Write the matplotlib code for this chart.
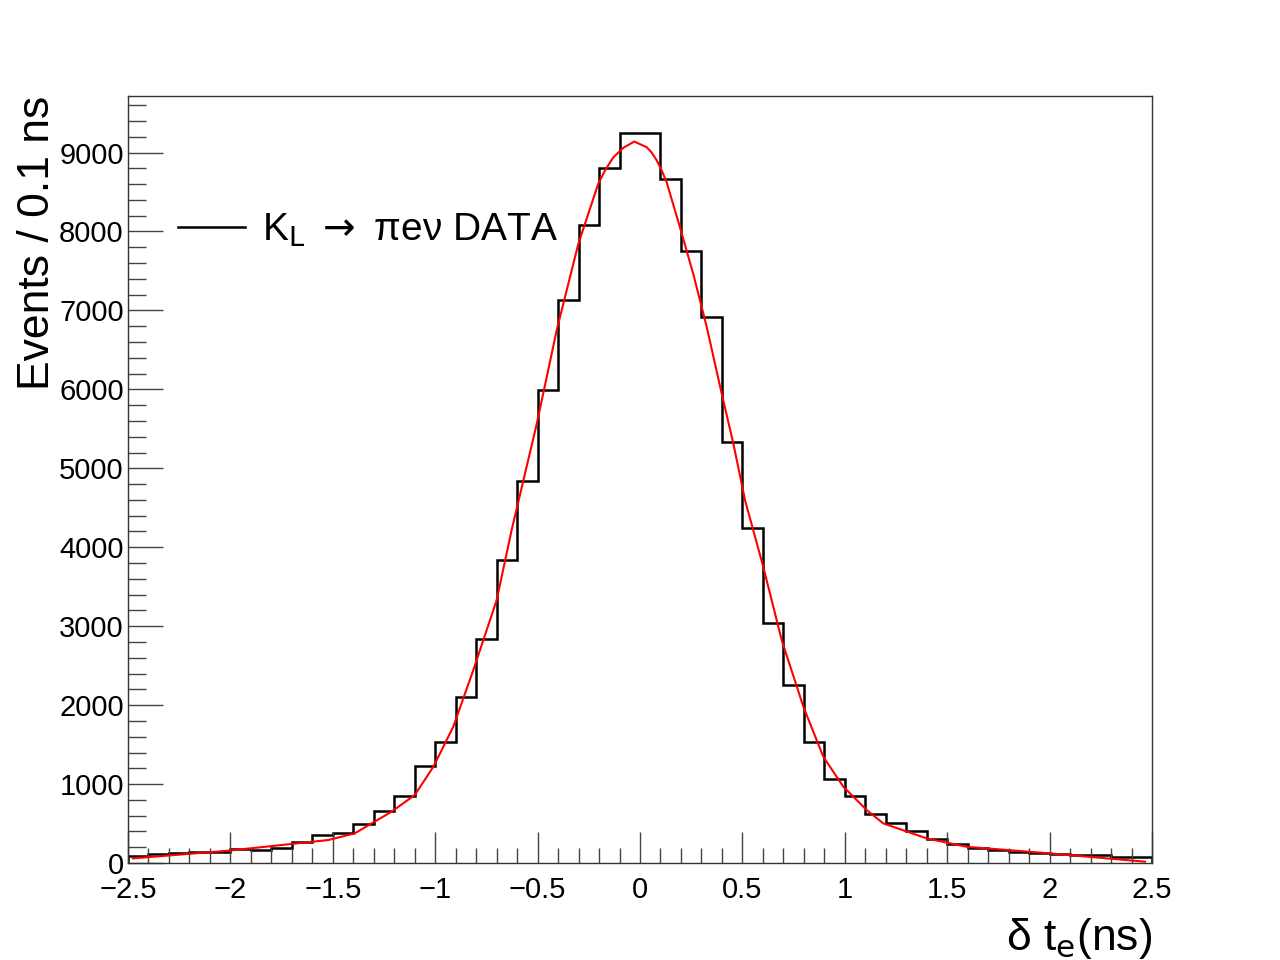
import numpy as np
import matplotlib
matplotlib.use("Agg")
import matplotlib.pyplot as plt
from matplotlib.ticker import MultipleLocator

plt.rcParams['font.family'] = ['Liberation Sans', 'DejaVu Sans']
plt.rcParams['mathtext.fontset'] = 'dejavusans'

# histogramma: 50 bin da 0.1 ns tra -2.5 e 2.5
bordi = np.linspace(-2.5, 2.5, 51)
conteggi = [90, 110, 122, 143, 145, 181, 165, 194, 270, 350,
            375, 494, 658, 852, 1224, 1528, 2100, 2835, 3835, 4835,
            5996, 7127, 8084, 8810, 9253, 9253, 8667, 7747, 6916, 5333,
            4249, 3038, 2253, 1532, 1063, 852, 615, 502, 409, 300,
            240, 186, 169, 143, 122, 114, 101, 97, 80, 76]

# curva del fit
fit_x = [-2.476, -2.012, -1.523, -1.393, -1.214, -1.100, -1.009, -0.912, -0.814, -0.700,
         -0.627, -0.504, -0.407, -0.301, -0.204, -0.171, -0.130, -0.081, -0.028, 0.033,
         0.057, 0.082, 0.106, 0.130, 0.195, 0.260, 0.326, 0.399, 0.456, 0.513,
         0.602, 0.692, 0.798, 0.895, 0.993, 1.107, 1.188, 1.400, 1.595, 2.002, 2.466]
fit_y = [59, 156, 291, 376, 649, 861, 1219, 1725, 2443, 3329,
         4215, 5565, 6747, 7844, 8603, 8772, 8940, 9060, 9139, 9067,
         9000, 8899, 8772, 8624, 8054, 7463, 6789, 5945, 5312, 4595,
         3751, 2823, 1978, 1346, 966, 671, 502, 312, 206, 122, 17]

fig = plt.figure(figsize=(12.8, 9.6), dpi=100)
ax = fig.add_axes([0.1, 0.101, 0.8, 0.799])

h = ax.stairs(conteggi, bordi, color='black', linewidth=1.8, baseline=0)
ax.plot(fit_x, fit_y, color='red', linewidth=1.5)

ax.set_xlim(-2.5, 2.5)
ax.set_ylim(0, 9716)
ax.xaxis.set_major_locator(MultipleLocator(0.5))
ax.xaxis.set_minor_locator(MultipleLocator(0.1))
ax.yaxis.set_major_locator(MultipleLocator(1000))
ax.yaxis.set_minor_locator(MultipleLocator(200))
ax.tick_params(which='both', direction='in', top=False, right=False,
               color='#444444', width=1)
ax.tick_params(axis='x', which='major', length=22, pad=9, labelsize=21)
ax.tick_params(axis='x', which='minor', length=11)
ax.tick_params(axis='y', which='major', length=25, pad=3, labelsize=21)
ax.tick_params(axis='y', which='minor', length=13)
ax.xaxis.set_major_formatter(plt.FuncFormatter(lambda v, p: f"{v:g}".replace('-', '\u2212')))
for s in ax.spines.values():
    s.set_color('#333333')
    s.set_linewidth(1)

ax.set_ylabel("Events / 0.1 ns", fontsize=32, loc='top')
ax.yaxis.set_label_coords(-0.068, 1.0)
ax.set_xlabel(r"δ t$_{\rm e}$(ns)", fontsize=32, loc='right', labelpad=9)

ax.legend([h], [r"K$_{\rm L}$ $\rightarrow$ πeν DATA"], loc='center left',
          bbox_to_anchor=(178 / 1280, 1 - 230 / 960), bbox_transform=fig.transFigure,
          frameon=False, fontsize=28, handlelength=1.72, handletextpad=0.44,
          borderpad=0, borderaxespad=0)

fig.savefig("out.png", dpi=100)
